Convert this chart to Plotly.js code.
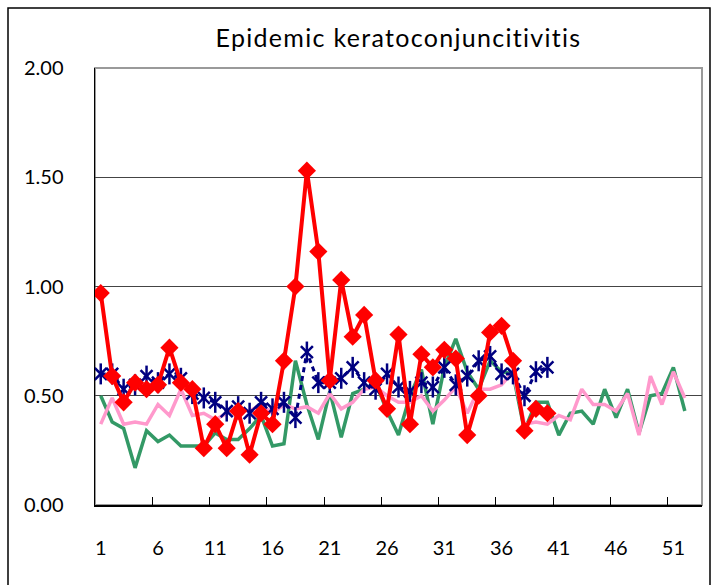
<!DOCTYPE html>
<html>
<head>
<meta charset="utf-8">
<script src="https://cdn.plot.ly/plotly-3.0.1.min.js"></script>
<style>html,body{margin:0;padding:0;background:#fff;}#chart{width:718px;height:585px;}
.gtitle{letter-spacing:1.3px;}</style>
</head>
<body>
<div id="chart"></div>
<script>
// Weeks (categories)
var weeks = [1,2,3,4,5,6,7,8,9,10,11,12,13,14,15,16,17,18,19,20,21,22,23,24,25,26,
             27,28,29,30,31,32,33,34,35,36,37,38,39,40,41,42,43,44,45,46,47,48,49,50,51,52];
var tickWeeks = [1,6,11,16,21,26,31,36,41,46,51];
var tickLabels = ["1","6","11","16","21","26","31","36","41","46","51"];
var minorTickWeeks = [5.5,10.5,15.5,20.5,25.5,30.5,35.5,40.5,45.5,50.5];
var yTickVals = [0,0.5,1.0,1.5,2.0];

// Series values
var seriesGreen = [0.50,0.38,0.35,0.17,0.34,0.29,0.32,0.27,0.27,0.27,0.33,0.30,0.30,0.35,0.41,0.27,0.28,0.66,0.46,0.30,
                   0.52,0.31,0.51,0.53,0.56,0.43,0.32,0.50,0.62,0.37,0.63,0.76,0.61,0.53,0.66,0.61,0.60,0.34,0.47,0.47,
                   0.32,0.42,0.43,0.37,0.53,0.40,0.53,0.33,0.50,0.51,0.63,0.43];
var seriesPink = [0.37,0.49,0.37,0.38,0.37,0.46,0.41,0.53,0.41,0.42,0.39,0.42,0.44,0.43,0.46,0.42,0.46,0.44,0.45,0.42,
                  0.51,0.44,0.47,0.53,0.54,0.50,0.47,0.47,0.50,0.43,0.48,0.54,0.42,0.53,0.53,0.55,0.61,0.37,0.38,0.37,
                  0.41,0.39,0.53,0.46,0.46,0.43,0.51,0.32,0.59,0.46,0.61,0.49];
var seriesNavy = [0.60,0.60,0.53,0.55,0.59,0.56,0.60,0.58,0.51,0.49,0.47,0.43,0.45,0.42,0.47,0.44,0.47,0.40,0.70,0.56,
                  0.56,0.58,0.63,0.56,0.53,0.60,0.54,0.52,0.56,0.54,0.63,0.55,0.59,0.66,0.68,0.60,0.60,0.50,0.61,0.63];
var seriesRed = [0.97,0.59,0.47,0.56,0.53,0.55,0.72,0.56,0.53,0.26,0.37,0.26,0.43,0.23,0.42,0.37,0.66,1.00,1.53,1.16,
                 0.57,1.03,0.77,0.87,0.57,0.44,0.78,0.37,0.69,0.63,0.71,0.67,0.32,0.50,0.79,0.82,0.66,0.34,0.44,0.42];

var FONT = "Lato, 'Liberation Sans', sans-serif";

var traces = [
  {x: weeks.slice(0, seriesGreen.length), y: seriesGreen, type: 'scatter', mode: 'lines',
   line: {color: '#339966', width: 3.5}, hoverinfo: 'skip'},
  {x: weeks.slice(0, seriesPink.length), y: seriesPink, type: 'scatter', mode: 'lines',
   line: {color: '#FF99CC', width: 3.5}, hoverinfo: 'skip'},
  {x: weeks.slice(0, seriesNavy.length), y: seriesNavy, type: 'scatter', mode: 'lines+markers',
   line: {color: '#000080', width: 3, dash: '5px,4px'},
   marker: {symbol: 'x-thin-open', size: 12, color: '#000080', line: {color: '#000080', width: 2.5}}, hoverinfo: 'skip'},
  {x: weeks.slice(0, seriesNavy.length), y: seriesNavy, type: 'scatter', mode: 'markers',
   marker: {symbol: 'line-ns-open', size: 15, color: '#000080', line: {color: '#000080', width: 2.5}}, hoverinfo: 'skip'},
  {x: weeks.slice(0, seriesRed.length), y: seriesRed, type: 'scatter', mode: 'lines+markers',
   line: {color: '#FF0000', width: 4},
   marker: {symbol: 'diamond', size: 14, color: '#FF0000'}, hoverinfo: 'skip'}
];

var layout = {
  width: 718, height: 585,
  margin: {l: 95, r: 16, t: 68, b: 80},
  paper_bgcolor: '#ffffff', plot_bgcolor: '#ffffff',
  showlegend: false,
  font: {family: FONT, size: 20, color: '#000'},
  title: {text: 'Epidemic keratoconjuncitivitis', font: {family: FONT, size: 25, color: '#000'},
          x: 0.5, xref: 'paper', xanchor: 'center', y: 1 - 38/585, yref: 'container', yanchor: 'middle'},
  xaxis: {range: [0.5, 53.5], tickmode: 'array', tickvals: tickWeeks, ticktext: tickLabels,
          ticks: 'outside', ticklen: 24, tickcolor: 'rgba(0,0,0,0)', showgrid: false, zeroline: false,
          showline: true, linecolor: '#000', linewidth: 1.5,
          tickfont: {family: FONT, size: 20, color: '#000'},
          minor: {tickmode: 'array', tickvals: minorTickWeeks, ticks: 'inside', ticklen: 8, tickcolor: '#000', tickwidth: 1, showgrid: false}},
  yaxis: {range: [0, 2], tickmode: 'array', tickvals: yTickVals, tickformat: '.2f',
          ticks: 'outside', ticklen: 26, tickcolor: 'rgba(0,0,0,0)',
          showgrid: true, gridcolor: '#444', gridwidth: 1, zeroline: false,
          showline: true, linecolor: '#000', linewidth: 1.5,
          tickfont: {family: FONT, size: 20, color: '#000'}},
  shapes: [
    {type: 'rect', xref: 'paper', yref: 'paper', x0: 0, x1: 1, y0: 0, y1: 1,
     line: {color: '#9a9a9a', width: 2}, layer: 'below'},
    {type: 'rect', xref: 'paper', yref: 'paper', x0: (8-95)/607, x1: (710-95)/607, y0: (505-600)/437, y1: (505-8)/437,
     line: {color: '#000', width: 1.5}, layer: 'below'}
  ]
};

Plotly.newPlot('chart', traces, layout, {staticPlot: true, displayModeBar: false});
</script>
</body>
</html>
